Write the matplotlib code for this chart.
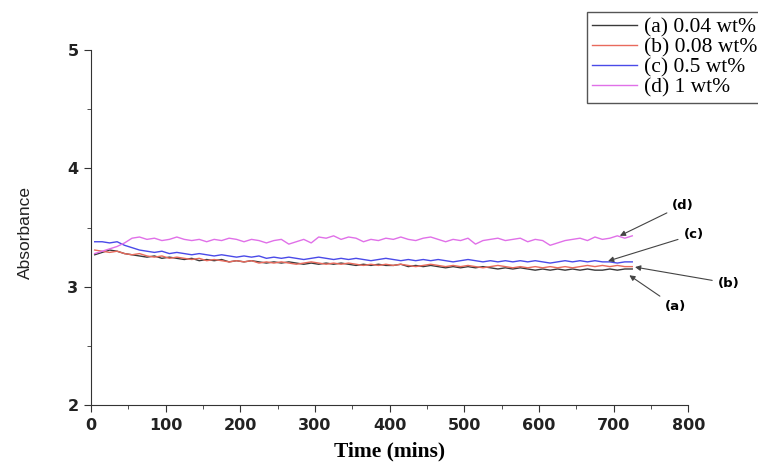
import matplotlib.pyplot as plt
from matplotlib.ticker import MultipleLocator

# sampling times (mins)
time = list(range(5, 726, 10))

abs_a = [3.27, 3.29, 3.31, 3.30, 3.28, 3.27, 3.26, 3.25, 3.26, 3.24,
         3.25, 3.24, 3.23, 3.24, 3.22, 3.23, 3.22, 3.23, 3.21, 3.22,
         3.21, 3.22, 3.21, 3.20, 3.21, 3.20, 3.21, 3.20, 3.19, 3.20,
         3.19, 3.20, 3.19, 3.20, 3.19, 3.18, 3.19, 3.18, 3.19, 3.18,
         3.18, 3.19, 3.17, 3.18, 3.17, 3.18, 3.17, 3.16, 3.17, 3.16,
         3.17, 3.16, 3.17, 3.16, 3.15, 3.16, 3.15, 3.16, 3.15, 3.14,
         3.15, 3.14, 3.15, 3.14, 3.15, 3.14, 3.15, 3.14, 3.14, 3.15,
         3.14, 3.15, 3.15]
abs_b = [3.31, 3.30, 3.29, 3.30, 3.28, 3.27, 3.28, 3.26, 3.25, 3.26,
         3.24, 3.25, 3.24, 3.23, 3.24, 3.22, 3.23, 3.22, 3.21, 3.22,
         3.21, 3.22, 3.20, 3.21, 3.20, 3.21, 3.20, 3.19, 3.20, 3.21,
         3.20, 3.19, 3.20, 3.19, 3.20, 3.19, 3.18, 3.19, 3.18, 3.19,
         3.18, 3.19, 3.18, 3.17, 3.18, 3.19, 3.18, 3.17, 3.18, 3.17,
         3.18, 3.17, 3.16, 3.17, 3.18, 3.17, 3.16, 3.17, 3.16, 3.17,
         3.16, 3.17, 3.16, 3.17, 3.16, 3.17, 3.18, 3.17, 3.18, 3.17,
         3.18, 3.17, 3.17]
abs_c = [3.38, 3.38, 3.37, 3.38, 3.35, 3.33, 3.31, 3.30, 3.29, 3.30,
         3.28, 3.29, 3.28, 3.27, 3.28, 3.27, 3.26, 3.27, 3.26, 3.25,
         3.26, 3.25, 3.26, 3.24, 3.25, 3.24, 3.25, 3.24, 3.23, 3.24,
         3.25, 3.24, 3.23, 3.24, 3.23, 3.24, 3.23, 3.22, 3.23, 3.24,
         3.23, 3.22, 3.23, 3.22, 3.23, 3.22, 3.23, 3.22, 3.21, 3.22,
         3.23, 3.22, 3.21, 3.22, 3.21, 3.22, 3.21, 3.22, 3.21, 3.22,
         3.21, 3.20, 3.21, 3.22, 3.21, 3.22, 3.21, 3.22, 3.21, 3.21,
         3.20, 3.21, 3.21]
abs_d = [3.28, 3.30, 3.32, 3.34, 3.37, 3.41, 3.42, 3.40, 3.41, 3.39,
         3.40, 3.42, 3.40, 3.39, 3.40, 3.38, 3.40, 3.39, 3.41, 3.40,
         3.38, 3.40, 3.39, 3.37, 3.39, 3.40, 3.36, 3.38, 3.40, 3.37,
         3.42, 3.41, 3.43, 3.40, 3.42, 3.41, 3.38, 3.40, 3.39, 3.41,
         3.40, 3.42, 3.40, 3.39, 3.41, 3.42, 3.40, 3.38, 3.40, 3.39,
         3.41, 3.36, 3.39, 3.40, 3.41, 3.39, 3.40, 3.41, 3.38, 3.40,
         3.39, 3.35, 3.37, 3.39, 3.40, 3.41, 3.39, 3.42, 3.40, 3.41,
         3.43, 3.41, 3.43]

labels = ['(a) 0.04 wt%', '(b) 0.08 wt%', '(c) 0.5 wt%', '(d) 1 wt%']
colors = ['#3a3a3a', '#e86a5c', '#4a4ae8', '#e070e8']

fig = plt.figure(figsize=(7.58, 4.62), dpi=100)
ax = fig.add_axes([0.120, 0.123, 0.788, 0.769])

for y, lab, c in zip([abs_a, abs_b, abs_c, abs_d], labels, colors):
    ax.plot(time, y, color=c, lw=1.0, label=lab)

ax.set_xlim(0, 800)
ax.set_ylim(2, 5)
ax.xaxis.set_major_locator(MultipleLocator(100))
ax.xaxis.set_minor_locator(MultipleLocator(50))
ax.yaxis.set_major_locator(MultipleLocator(1))
ax.yaxis.set_minor_locator(MultipleLocator(0.5))
ax.spines['top'].set_visible(False)
ax.spines['right'].set_visible(False)
for s in ('left', 'bottom'):
    ax.spines[s].set_color('#333333')
ax.tick_params(which='major', direction='out', length=5, color='#333333', pad=4)
ax.tick_params(which='minor', direction='out', length=3, color='#333333')
for t in ax.get_xticklabels() + ax.get_yticklabels():
    t.set_fontfamily('DejaVu Sans')
    t.set_fontweight('bold')
    t.set_fontsize(11.5)
    t.set_color('#222222')

ax.set_xlabel('Time (mins)', family='Liberation Serif', fontweight='bold',
              fontsize=15.5, labelpad=6)
ax.set_ylabel('Absorbance', family='Liberation Sans',
              fontsize=12.5, color='#222222')
ax.yaxis.set_label_coords(-0.097, 0.485)

# curve labels with arrows
arrow = dict(arrowstyle='-|>', color='#444444', lw=0.8, mutation_scale=8)
notes = [('(d)', 705, 3.42, 793, 3.69),
         ('(c)', 689, 3.21, 807, 3.44),
         ('(b)', 725, 3.17, 854, 3.03),
         ('(a)', 718, 3.11, 783, 2.83)]
for txt, x0, y0, x1, y1 in notes:
    ax.annotate(txt, xy=(x0, y0), xytext=(x1, y1), arrowprops=arrow,
                fontsize=9.5, fontweight='bold', family='DejaVu Sans',
                ha='center', va='center', annotation_clip=False)

leg = fig.legend(loc='upper left', bbox_to_anchor=(0.774, 0.974),
                 borderaxespad=0,
                 prop={'family': 'Liberation Serif', 'size': 15.5},
                 handlelength=2.1, handletextpad=0.3, labelspacing=0.0,
                 borderpad=0.25, fancybox=False, framealpha=1)
leg.get_frame().set_edgecolor('#555555')
leg.get_frame().set_linewidth(1.0)

fig.savefig('out.png', dpi=100)
